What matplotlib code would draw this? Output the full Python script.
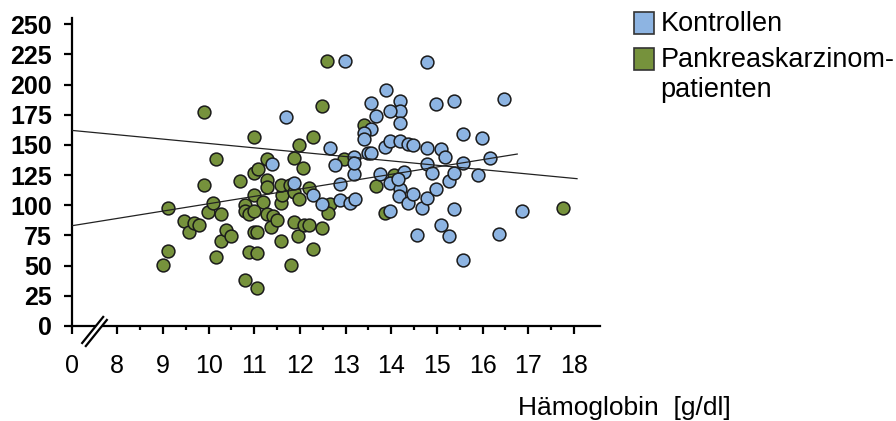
import numpy as np
import matplotlib
matplotlib.use('Agg')
import matplotlib.pyplot as plt
from matplotlib.patches import Rectangle, Polygon

plt.rcParams['font.family'] = ['Liberation Sans', 'DejaVu Sans']

# Hämoglobin [g/dl] / Wert  -- Pankreaskarzinompatienten (grün)
green_x = [9.0, 9.1, 9.1, 9.47, 9.58, 9.68, 9.79, 9.89, 9.98, 10.09,
           10.16, 10.27, 10.27, 10.38, 10.49, 10.68, 10.79, 10.8, 10.89, 11.0,
           11.18, 11.28, 11.28, 11.28, 11.4, 11.37, 11.5, 11.59, 11.58, 11.6,
           11.8, 11.86, 11.95, 10.89, 11.07, 11.0, 11.07, 10.8, 11.07, 9.89,
           11.0, 10.16, 11.0, 11.09, 11.28, 11.86, 11.97, 11.59, 11.79, 11.86,
           11.97, 12.19, 12.66, 12.61, 13.67, 13.87, 12.08, 12.19, 12.48, 12.29,
           12.59, 12.48, 13.4, 12.28, 12.07, 12.97, 14.05, 17.77, 11.0]
green_y = [50.5, 62.3, 97.6, 87.0, 77.8, 85.0, 83.3, 117.0, 94.6, 101.5,
           57.2, 92.4, 70.0, 79.8, 74.2, 119.8, 100.2, 95.0, 92.4, 108.4,
           102.6, 120.5, 115.3, 92.4, 91.0, 82.2, 87.5, 70.4, 101.8, 108.4,
           50.5, 85.8, 74.5, 61.2, 60.2, 77.8, 77.8, 38.1, 31.2, 176.9,
           156.4, 138.0, 126.4, 129.7, 138.0, 139.5, 149.8, 116.7, 116.7, 111.2,
           104.9, 114.0, 100.7, 93.8, 115.9, 93.3, 83.6, 83.6, 80.9, 63.7,
           219.6, 182.2, 166.4, 156.7, 130.5, 138.0, 125.0, 97.4, 95.0]

# Kontrollen (blau)
blue_x = [11.69, 11.39, 11.86, 12.29, 12.48, 12.87, 12.87, 13.1, 13.21, 13.19,
          13.76, 13.98, 14.2, 14.18, 14.37, 14.48, 14.29, 13.98, 14.56, 15.1,
          15.27, 15.37, 15.57, 16.37, 16.87, 14.68, 14.78, 14.99, 15.27, 12.98,
          14.78, 16.48, 15.37, 14.99, 13.88, 13.56, 14.2, 14.2, 13.98, 13.67,
          14.2, 13.56, 13.4, 13.4, 12.65, 13.19, 13.19, 12.77, 13.49, 13.56,
          13.87, 13.98, 14.2, 14.37, 14.48, 14.78, 15.1, 15.17, 15.57, 15.99,
          14.78, 15.57, 16.16, 14.89, 15.37, 15.89, 14.15]
blue_y = [173.3, 134.1, 118.6, 108.4, 100.7, 117.4, 104.3, 101.6, 104.9, 125.8,
          125.8, 118.3, 113.6, 107.6, 101.6, 109.6, 127.3, 95.2, 75.6, 83.6,
          74.5, 96.6, 54.6, 75.9, 95.2, 97.6, 106.0, 113.2, 119.8, 219.6,
          218.8, 187.7, 186.3, 183.7, 195.4, 184.9, 186.4, 178.2, 178.2, 174.1,
          167.8, 162.8, 160.0, 154.5, 147.6, 140.2, 134.7, 133.3, 142.9, 142.9,
          148.4, 153.4, 153.4, 150.7, 149.8, 147.1, 146.3, 139.6, 158.9, 155.4,
          134.1, 135.2, 139.3, 126.4, 126.4, 125.0, 122.0]

# Regressionsgeraden (Endpunkte)
line_ctrl_x = [7.0, 18.07]
line_ctrl_y = [162.0, 122.0]
line_pat_x = [7.0, 16.76]
line_pat_y = [83.0, 142.4]

xticks = [7, 8, 9, 10, 11, 12, 13, 14, 15, 16, 17, 18]
xticklabels = ['0', '8', '9', '10', '11', '12', '13', '14', '15', '16', '17', '18']
yticks = [0, 25, 50, 75, 100, 125, 150, 175, 200, 225, 250]

col_blue = '#8DB4E2'
col_green = '#76923C'

fig = plt.figure(figsize=(8.96, 4.21), dpi=100)
ax = fig.add_axes([0.080, 0.2257, 0.590, 0.7313])

ax.scatter(green_x, green_y, s=85, c=col_green, edgecolors='#1a1a1a', linewidths=1.1, zorder=3)
ax.scatter(blue_x, blue_y, s=85, c=col_blue, edgecolors='#1a1a1a', linewidths=1.1, zorder=4)
ax.plot(line_ctrl_x, line_ctrl_y, color='#222222', lw=0.9, zorder=5)
ax.plot(line_pat_x, line_pat_y, color='#222222', lw=0.9, zorder=5)

ax.set_xlim(7, 18.58)
ax.set_ylim(0, 255)
for s in ['top', 'right']:
    ax.spines[s].set_visible(False)
for s in ['left', 'bottom']:
    ax.spines[s].set_linewidth(1.6)

ax.set_xticks(xticks)
ax.set_xticklabels(xticklabels)
ax.set_xticks([8.5, 9.5, 10.5, 11.5, 12.5, 13.5, 14.5, 15.5, 16.5, 17.5], minor=True)
ax.set_yticks(yticks)
ax.tick_params(axis='x', which='major', length=6, width=1.6, pad=14, labelsize=18)
ax.tick_params(axis='x', which='minor', length=3, width=1.6)
ax.tick_params(axis='y', length=6, width=1.6, pad=8, labelsize=18)
for lab in ax.get_yticklabels():
    lab.set_fontweight('bold')

# Achsenbruch zwischen 0 und 8
brk = Polygon([[7.23, -14.1], [7.69, 7.5], [7.77, 5.0], [7.31, -16.6]], closed=True,
              facecolor='white', edgecolor='none', clip_on=False, zorder=6)
ax.add_patch(brk)
ax.plot([7.23, 7.69], [-14.1, 7.5], color='black', lw=1.6, clip_on=False, zorder=7)
ax.plot([7.31, 7.77], [-16.6, 5.0], color='black', lw=1.6, clip_on=False, zorder=7)

fig.text(0.697, 0.031, 'Hämoglobin  [g/dl]', ha='center', va='center', fontsize=19)

# Legende
fig.patches.append(Rectangle((0.7076, 0.9192), 0.0223, 0.0523, transform=fig.transFigure,
                             facecolor=col_blue, edgecolor='#333333', lw=1.2))
fig.patches.append(Rectangle((0.7076, 0.8337), 0.0223, 0.0523, transform=fig.transFigure,
                             facecolor=col_green, edgecolor='#333333', lw=1.2))
fig.text(0.737, 0.943, 'Kontrollen', ha='left', va='center', fontsize=19.5)
fig.text(0.737, 0.858, 'Pankreaskarzinom-', ha='left', va='center', fontsize=19.5)
fig.text(0.737, 0.786, 'patienten', ha='left', va='center', fontsize=19.5)

fig.savefig('out.png', dpi=100)
